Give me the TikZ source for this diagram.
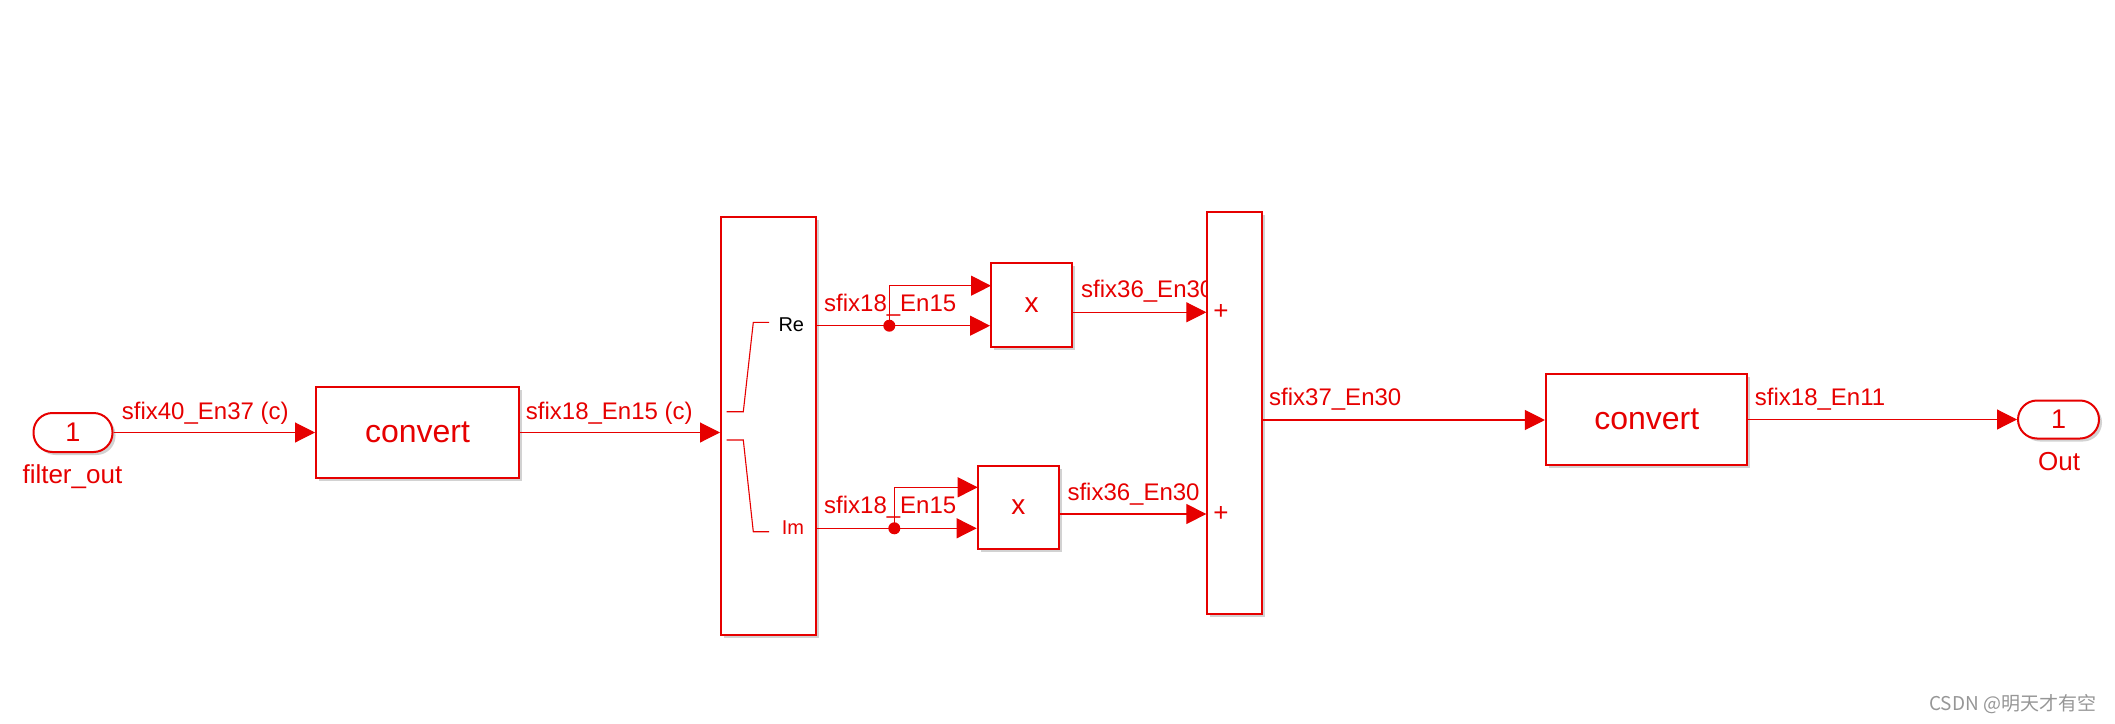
\documentclass[tikz,border=0pt]{standalone}
\usepackage{fontspec}
\setmainfont{Liberation Sans}
\newfontfamily\cjk{Noto Sans CJK SC}
\usetikzlibrary{arrows.meta,shadows}
\definecolor{sred}{RGB}{230,0,0}
\definecolor{wmgray}{RGB}{150,150,150}
\tikzset{
  blk/.style={draw=sred, line width=2pt, fill=white, inner sep=0pt, text=sred,
    drop shadow={shadow xshift=3pt, shadow yshift=-3pt, opacity=0.25, fill=black!70}},
  portbox/.style={blk, rounded corners=19pt, font=\fontsize{27}{30}\selectfont},
  wire/.style={draw=sred, line width=1.1pt},
  arr/.style={wire, -{Triangle[length=20pt,width=20pt]}},
  lbl/.style={text=sred, inner sep=0pt, anchor=base west, font=\fontsize{24}{28}\selectfont},
  plbl/.style={text=sred, inner sep=0pt, anchor=base, font=\fontsize{26}{30}\selectfont},
  dotn/.style={circle, fill=sred, inner sep=0pt, minimum size=12pt},
}
\begin{document}
\begin{tikzpicture}[x=1pt,y=-1pt]
\useasboundingbox (0,0) rectangle (2115,723);
% label partly hidden behind the sum block
\node[lbl] (l36a) at (1081,297.3) {sfix36\_En30};
% blocks
\node[portbox, minimum width=79pt, minimum height=39pt] (in1) at (73,432.5) {1};
\node[blk, minimum width=203pt, minimum height=91.6pt, font=\fontsize{32}{36}\selectfont] (conv1) at (417.5,432.5) {convert};
\node[blk, minimum width=95pt, minimum height=418pt] (cri) at (768.5,426) {};
\node[blk, minimum width=81.3pt, minimum height=84pt, font=\fontsize{28}{32}\selectfont] (mult1) at (1031.7,304.7) {x};
\node[blk, minimum width=81.3pt, minimum height=83.3pt, font=\fontsize{28}{32}\selectfont] (mult2) at (1018.3,507.3) {x};
\node[blk, minimum width=54.7pt, minimum height=402.3pt] (sum) at (1234.7,412.9) {};
\node[blk, minimum width=201.5pt, minimum height=91.7pt, font=\fontsize{32}{36}\selectfont] (conv2) at (1646.7,419.5) {convert};
\node[portbox, minimum width=81pt, minimum height=38pt] (out1) at (2058.5,419.5) {1};
% ports and points
\coordinate (reo) at (816,325.7);
\coordinate (imo) at (816,528.3);
\coordinate (m1u) at (991,285.7);
\coordinate (m2u) at (977.7,487.3);
\coordinate (m1o) at (1072.3,312.3);
\coordinate (m2o) at (1059,514);
\coordinate (so) at (1262,420);
% bracket inside the complex-to-real-imag block
\draw[wire] (726.7,411.7) -- (743.3,411.7) -- (753.3,322.3) -- (769,322.3);
\draw[wire] (726.7,440) -- (743.3,440) -- (753.3,531.7) -- (769,531.7);
% connectors
\draw[arr] (in1.east) -- (conv1.west);
\draw[arr] (conv1.east) -- (conv1.east -| cri.west);
\draw[arr] (reo) -- (reo -| mult1.west);
\draw[arr] (imo) -- (imo -| mult2.west);
\node[dotn] (d1) at (889.3,325.7) {};
\node[dotn] (d2) at (894.3,528.3) {};
\draw[arr] (d1.center) |- (m1u);
\draw[arr] (d2.center) |- (m2u);
\draw[arr] (m1o) -- (m1o -| sum.west);
\draw[arr] (m2o) -- (m2o -| sum.west);
\draw[arr] (so) -- (so -| conv2.west);
\draw[arr] (conv2.east |- out1.west) -- (out1.west);
% labels
\node[lbl] (l40) at (121.7,419.3) {sfix40\_En37 (c)};
\node[lbl] (l18c) at (525.7,419.3) {sfix18\_En15 (c)};
\node[lbl] (l18a) at (824,311.7) {sfix18\_En15};
\node[lbl] (l18b) at (824,513.3) {sfix18\_En15};
\node[lbl] (l36b) at (1067.3,500) {sfix36\_En30};
\node[lbl] (l37) at (1269,405) {sfix37\_En30};
\node[lbl] (l11) at (1754.7,405) {sfix18\_En11};
\node[inner sep=0pt, anchor=base east, font=\fontsize{20}{24}\selectfont] (re) at (804.3,331.7) {Re};
\node[inner sep=0pt, anchor=base east, text=sred, font=\fontsize{20}{24}\selectfont] (im) at (804.3,534.3) {Im};
\node[inner sep=0pt, text=sred, font=\fontsize{26}{30}\selectfont] (p1) at (1221,311.7) {+};
\node[inner sep=0pt, text=sred, font=\fontsize{26}{30}\selectfont] (p2) at (1221,514) {+};
\node[plbl] (fo) at (72.4,483) {filter\_out};
\node[plbl] (ol) at (2059,470) {Out};
\node[inner sep=0pt, anchor=west, text=wmgray, font=\cjk\fontsize{19}{23}\selectfont] (wm) at (1929,704) {CSDN @明天才有空};
\end{tikzpicture}
\end{document}
